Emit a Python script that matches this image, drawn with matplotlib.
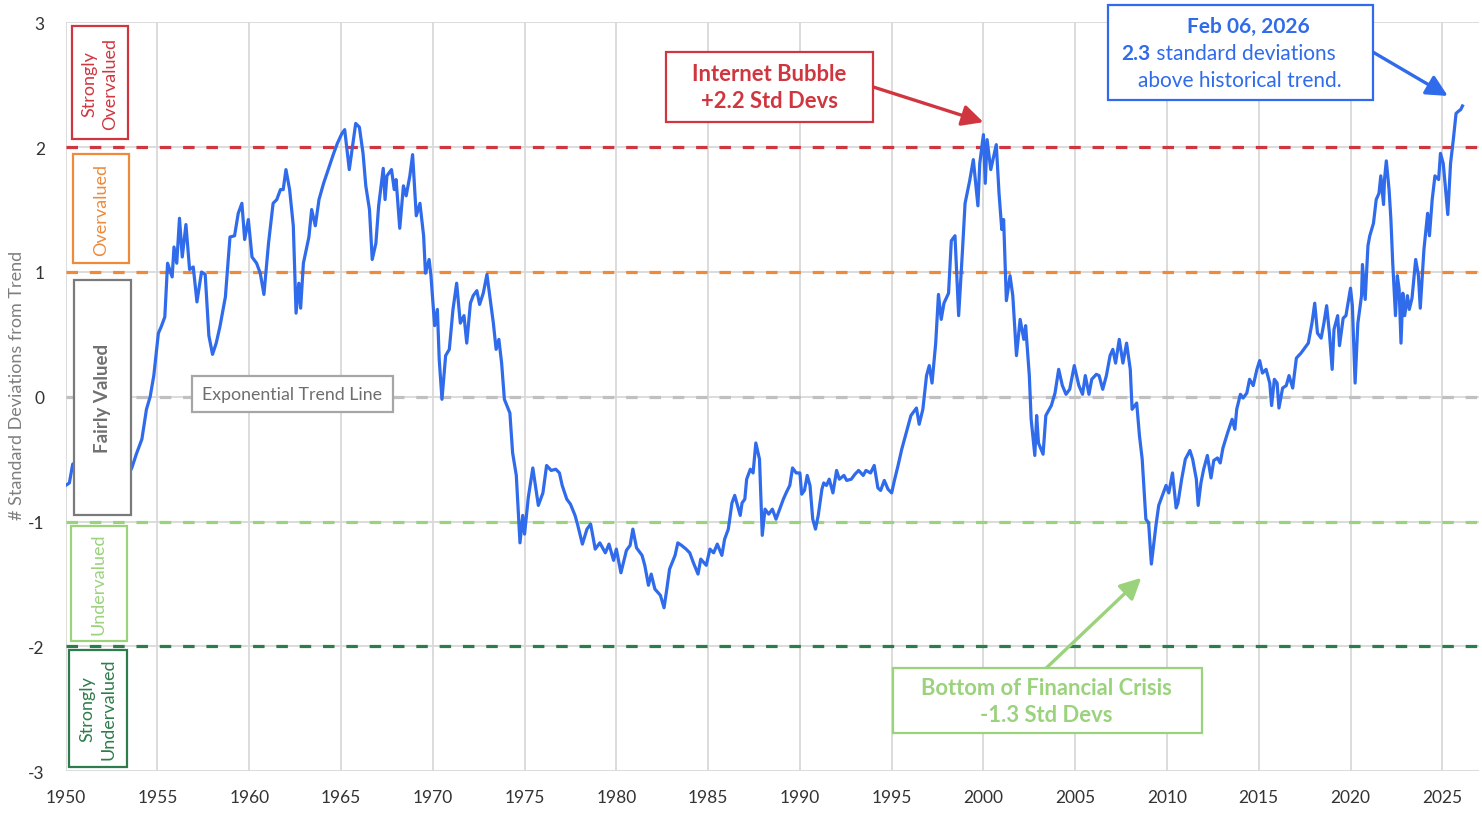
import matplotlib
matplotlib.use("Agg")
import matplotlib.pyplot as plt
from matplotlib.patches import Rectangle

# ---------------- data ----------------
years = [
    1950.0, 1950.2, 1950.38, 1950.8, 1951.5, 1952.3, 1953.0, 1953.5, 1953.6, 1953.87,
    1954.15, 1954.4, 1954.6, 1954.8, 1955.05, 1955.2, 1955.4, 1955.55, 1955.8, 1955.9,
    1956.05, 1956.2, 1956.35, 1956.55, 1956.75, 1956.95, 1957.15, 1957.4, 1957.6, 1957.8,
    1958.0, 1958.2, 1958.4, 1958.7, 1958.95, 1959.2, 1959.4, 1959.6, 1959.75, 1959.95,
    1960.15, 1960.4, 1960.6, 1960.8, 1961.05, 1961.3, 1961.5, 1961.7, 1961.85, 1962.0,
    1962.2, 1962.4, 1962.55, 1962.7, 1962.8, 1962.95, 1963.25, 1963.4, 1963.6, 1963.8,
    1964.05, 1964.3, 1964.6, 1964.8, 1965.05, 1965.2, 1965.45, 1965.8, 1966.0, 1966.2,
    1966.35, 1966.55, 1966.7, 1966.9, 1967.05, 1967.3, 1967.4, 1967.5, 1967.75, 1967.9,
    1968.0, 1968.2, 1968.4, 1968.55, 1968.75, 1968.9, 1969.1, 1969.3, 1969.5, 1969.6,
    1969.8, 1969.9, 1970.1, 1970.25, 1970.35, 1970.5, 1970.7, 1970.9, 1971.1, 1971.3,
    1971.5, 1971.7, 1971.85, 1972.05, 1972.2, 1972.4, 1972.55, 1972.75, 1972.95, 1973.1,
    1973.3, 1973.45, 1973.6, 1973.75, 1973.9, 1974.2, 1974.35, 1974.55, 1974.75, 1974.9,
    1975.0, 1975.2, 1975.45, 1975.75, 1976.0, 1976.2, 1976.45, 1976.7, 1976.9, 1977.05,
    1977.3, 1977.5, 1977.75, 1977.9, 1978.15, 1978.4, 1978.6, 1978.85, 1979.1, 1979.4,
    1979.6, 1979.85, 1980.0, 1980.25, 1980.55, 1980.75, 1980.9, 1981.1, 1981.4, 1981.55,
    1981.75, 1981.9, 1982.1, 1982.4, 1982.6, 1982.75, 1982.9, 1983.2, 1983.35, 1983.55,
    1983.8, 1984.0, 1984.2, 1984.45, 1984.6, 1984.9, 1985.1, 1985.3, 1985.5, 1985.75,
    1985.9, 1986.1, 1986.3, 1986.45, 1986.6, 1986.75, 1986.85, 1987.0, 1987.1, 1987.3,
    1987.45, 1987.6, 1987.8, 1987.95, 1988.1, 1988.3, 1988.5, 1988.7, 1988.9, 1989.1,
    1989.25, 1989.45, 1989.6, 1989.8, 1990.0, 1990.1, 1990.25, 1990.4, 1990.55, 1990.7,
    1990.85, 1991.0, 1991.2, 1991.3, 1991.45, 1991.6, 1991.8, 1992.0, 1992.15, 1992.4,
    1992.55, 1992.8, 1993.0, 1993.2, 1993.45, 1993.6, 1993.85, 1994.05, 1994.25, 1994.4,
    1994.6, 1994.8, 1995.0, 1995.15, 1995.35, 1995.55, 1995.7, 1995.9, 1996.05, 1996.35,
    1996.5, 1996.7, 1996.9, 1997.05, 1997.2, 1997.4, 1997.55, 1997.7, 1997.85, 1998.1,
    1998.25, 1998.45, 1998.65, 1998.85, 1999.0, 1999.25, 1999.45, 1999.7, 1999.8, 2000.0,
    2000.1, 2000.2, 2000.4, 2000.7, 2000.85, 2001.0, 2001.1, 2001.25, 2001.45, 2001.6,
    2001.8, 2002.0, 2002.2, 2002.3, 2002.5, 2002.6, 2002.8, 2002.9, 2003.0, 2003.25,
    2003.4, 2003.7, 2003.9, 2004.1, 2004.3, 2004.5, 2004.7, 2004.95, 2005.2, 2005.4,
    2005.55, 2005.75, 2005.9, 2006.15, 2006.3, 2006.5, 2006.7, 2006.9, 2007.05, 2007.2,
    2007.4, 2007.6, 2007.8, 2008.0, 2008.1, 2008.35, 2008.5, 2008.65, 2008.85, 2009.0,
    2009.15, 2009.4, 2009.55, 2009.75, 2009.95, 2010.1, 2010.3, 2010.5, 2010.6, 2010.8,
    2011.0, 2011.25, 2011.4, 2011.6, 2011.7, 2011.85, 2012.0, 2012.2, 2012.4, 2012.55,
    2012.75, 2012.9, 2013.05, 2013.3, 2013.55, 2013.7, 2013.8, 2014.0, 2014.15, 2014.35,
    2014.5, 2014.7, 2014.9, 2015.05, 2015.2, 2015.4, 2015.6, 2015.7, 2015.85, 2016.0,
    2016.1, 2016.3, 2016.5, 2016.65, 2016.85, 2017.05, 2017.3, 2017.5, 2017.7, 2017.9,
    2018.05, 2018.2, 2018.4, 2018.55, 2018.7, 2018.85, 2019.0, 2019.1, 2019.3, 2019.4,
    2019.6, 2019.75, 2020.0, 2020.1, 2020.25, 2020.4, 2020.6, 2020.65, 2020.8, 2020.95,
    2021.05, 2021.25, 2021.4, 2021.55, 2021.65, 2021.8, 2021.85, 2021.95, 2022.1, 2022.2,
    2022.3, 2022.45, 2022.55, 2022.65, 2022.75, 2022.85, 2022.95, 2023.1, 2023.2, 2023.35,
    2023.55, 2023.7, 2023.8, 2024.0, 2024.2, 2024.3, 2024.45, 2024.6, 2024.8, 2024.9,
    2025.05, 2025.15, 2025.3, 2025.45, 2025.6, 2025.75, 2025.9, 2026.0, 2026.1,
]
std_devs = [
    -0.71, -0.69, -0.54, -0.50, -0.45, -0.50, -0.45, -0.60, -0.57, -0.45,
    -0.34, -0.10, 0.00, 0.17, 0.51, 0.56, 0.64, 1.07, 0.96, 1.20,
    1.07, 1.43, 1.12, 1.38, 1.02, 1.04, 0.76, 1.00, 0.98, 0.49,
    0.34, 0.43, 0.56, 0.80, 1.28, 1.29, 1.47, 1.55, 1.26, 1.42,
    1.12, 1.07, 0.99, 0.82, 1.23, 1.55, 1.58, 1.66, 1.66, 1.82,
    1.66, 1.37, 0.67, 0.91, 0.71, 1.07, 1.28, 1.50, 1.37, 1.58,
    1.71, 1.82, 1.95, 2.03, 2.11, 2.14, 1.82, 2.19, 2.16, 1.95,
    1.69, 1.50, 1.10, 1.23, 1.53, 1.83, 1.58, 1.77, 1.82, 1.66,
    1.74, 1.35, 1.69, 1.61, 1.77, 1.94, 1.45, 1.55, 1.29, 0.99,
    1.10, 0.97, 0.57, 0.70, 0.30, -0.02, 0.33, 0.38, 0.70, 0.91,
    0.59, 0.65, 0.43, 0.75, 0.81, 0.85, 0.74, 0.83, 0.98, 0.81,
    0.59, 0.38, 0.46, 0.27, -0.02, -0.13, -0.45, -0.63, -1.17, -0.95,
    -1.10, -0.81, -0.57, -0.87, -0.77, -0.55, -0.59, -0.58, -0.61, -0.71,
    -0.82, -0.86, -0.95, -1.03, -1.18, -1.06, -1.02, -1.22, -1.17, -1.25,
    -1.18, -1.31, -1.22, -1.41, -1.23, -1.19, -1.06, -1.21, -1.27, -1.35,
    -1.51, -1.42, -1.54, -1.59, -1.69, -1.54, -1.38, -1.27, -1.17, -1.19,
    -1.22, -1.25, -1.33, -1.42, -1.30, -1.35, -1.22, -1.25, -1.18, -1.27,
    -1.14, -1.06, -0.85, -0.79, -0.87, -0.95, -0.85, -0.82, -0.66, -0.58,
    -0.61, -0.37, -0.50, -1.11, -0.90, -0.94, -0.90, -0.98, -0.90, -0.82,
    -0.77, -0.71, -0.57, -0.61, -0.61, -0.78, -0.75, -0.63, -0.71, -0.98,
    -1.06, -0.95, -0.74, -0.69, -0.71, -0.66, -0.77, -0.59, -0.66, -0.63,
    -0.67, -0.66, -0.62, -0.59, -0.63, -0.59, -0.61, -0.55, -0.73, -0.75,
    -0.67, -0.74, -0.77, -0.67, -0.55, -0.42, -0.34, -0.23, -0.15, -0.09,
    -0.22, -0.10, 0.17, 0.25, 0.11, 0.43, 0.82, 0.62, 0.75, 0.83,
    1.25, 1.29, 0.65, 1.15, 1.55, 1.73, 1.90, 1.53, 1.87, 2.10,
    1.71, 2.06, 1.82, 2.02, 1.63, 1.34, 1.42, 0.77, 0.97, 0.81,
    0.33, 0.62, 0.46, 0.57, 0.17, -0.18, -0.47, -0.15, -0.37, -0.46,
    -0.15, -0.07, 0.03, 0.22, 0.09, 0.02, 0.06, 0.25, 0.09, 0.02,
    0.17, 0.02, 0.14, 0.18, 0.17, 0.06, 0.17, 0.33, 0.38, 0.27,
    0.46, 0.27, 0.43, 0.22, -0.10, -0.05, -0.31, -0.50, -0.98, -1.01,
    -1.34, -1.03, -0.87, -0.79, -0.71, -0.77, -0.61, -0.89, -0.85, -0.66,
    -0.50, -0.43, -0.50, -0.66, -0.87, -0.69, -0.58, -0.47, -0.65, -0.51,
    -0.49, -0.53, -0.41, -0.29, -0.18, -0.26, -0.10, 0.02, -0.01, 0.03,
    0.14, 0.09, 0.22, 0.29, 0.19, 0.22, 0.11, -0.07, 0.14, 0.11,
    -0.09, 0.07, 0.09, 0.17, 0.07, 0.31, 0.35, 0.39, 0.43, 0.59,
    0.75, 0.51, 0.47, 0.59, 0.73, 0.51, 0.22, 0.54, 0.65, 0.41,
    0.63, 0.65, 0.87, 0.73, 0.11, 0.59, 0.81, 1.06, 0.78, 1.21,
    1.29, 1.39, 1.58, 1.63, 1.77, 1.54, 1.74, 1.89, 1.66, 1.42,
    1.07, 0.65, 0.97, 0.86, 0.43, 0.83, 0.65, 0.81, 0.70, 0.79,
    1.10, 0.97, 0.71, 1.18, 1.47, 1.29, 1.58, 1.77, 1.74, 1.95,
    1.87, 1.71, 1.46, 1.87, 2.06, 2.27, 2.29, 2.30, 2.33,
]

x_ticks = list(range(1950, 2030, 5))
y_ticks = [-3, -2, -1, 0, 1, 2, 3]

levels = [2, 1, 0, -1, -2]
level_colors = ["#D0363F", "#EE8A3A", "#C0C0C0", "#9BD27C", "#2E7C4B"]

zone_labels = ["Strongly\nOvervalued", "Overvalued", "Fairly Valued",
               "Undervalued", "Strongly\nUndervalued"]
zone_text_colors = ["#D0363F", "#EE8A3A", "#707070", "#9BD27C", "#2E7C4B"]
zone_edge_colors = ["#D0363F", "#EE8A3A", "#7A7A7A", "#9BD27C", "#2E7C4B"]
zone_weights = ["normal", "normal", "bold", "normal", "normal"]

trend_label = "Exponential Trend Line"
bubble_label = "Internet Bubble\n+2.2 Std Devs"
bubble_point = (2000.0, 2.2)
crisis_label = "Bottom of Financial Crisis\n-1.3 Std Devs"
crisis_point = (2008.6, -1.45)
latest_date = "Feb 06, 2026"
latest_value = "2.3"
latest_rest = " standard deviations"
latest_line3 = "above historical trend."
latest_point = (2025.3, 2.41)

y_label = "# Standard Deviations from Trend"

# ---------------- styling ----------------
FONT = "Lato"
plt.rcParams["font.family"] = [FONT, "DejaVu Sans"]
plt.rcParams["axes.unicode_minus"] = False

W, H = 1482, 820
fig = plt.figure(figsize=(W / 100, H / 100), dpi=100)
fig.patch.set_facecolor("white")


def fx(px):
    return px / W


def fy(py):
    return 1 - py / H


ax_left, ax_right, ax_top, ax_bottom = 65.7, 1479, 23.3, 772.3
ax = fig.add_axes([fx(ax_left), fy(ax_bottom), fx(ax_right - ax_left),
                   (ax_bottom - ax_top) / H])
ax.set_xlim(1950, 2027)
ax.set_ylim(-3, 3)
ax.set_xticks(x_ticks)
ax.set_yticks(y_ticks)
ax.grid(True, color="#D9D9D9", lw=1.3, zorder=0)
ax.set_axisbelow(True)
for s in ax.spines.values():
    s.set_visible(False)
ax.tick_params(length=0, labelsize=12.5, labelcolor="#333333")
ax.tick_params(axis="x", pad=13)
ax.tick_params(axis="y", pad=15)

for lv, col in zip(levels, level_colors):
    ax.axhline(lv, color=col, lw=2.3, linestyle=(0, (3.6, 3.7)), zorder=2)

ax.plot(years, std_devs, color="#2F6BEB", lw=2.3, zorder=4,
        solid_joinstyle="round")

fig.text(fx(17), fy(385), y_label, rotation=90, ha="center", va="center",
         fontsize=13, color="#7F7F7F")


def box(x0, y0, x1, y1, edge, lw=1.6):
    r = Rectangle((fx(x0), fy(y1)), fx(x1 - x0), (y1 - y0) / H,
                  transform=fig.transFigure, facecolor="white",
                  edgecolor=edge, lw=lw, zorder=5)
    fig.add_artist(r)


# zone boxes on the left
zone_boxes = [(72.3, 27.3, 127.7, 140), (73, 155, 129, 264),
              (74, 281, 130.7, 516), (71, 527, 126.7, 642),
              (69.3, 651, 127, 768)]
zone_sizes = [13, 13, 13.5, 13, 13]
for (x0, y0, x1, y1), lab, tc, ec, wt, fs in zip(zone_boxes, zone_labels,
                                                 zone_text_colors,
                                                 zone_edge_colors,
                                                 zone_weights, zone_sizes):
    box(x0, y0, x1, y1, ec)
    fig.text(fx((x0 + x1) / 2), fy((y0 + y1) / 2), lab, rotation=90,
             ha="center", va="center", fontsize=fs, color=tc,
             fontweight=wt, linespacing=1.4, zorder=6)

# trend line label
box(191.7, 377.3, 393.3, 413.3, "#A6A6A6")
fig.text(fx(292.5), fy(395.3), trend_label, ha="center", va="center",
         fontsize=12.8, color="#6E6E6E", zorder=6)

# Internet bubble
RED = "#D0363F"
box(665.7, 53.3, 873.3, 122.7, RED)
fig.text(fx(769.5), fy(88), bubble_label, ha="center", va="center",
         fontsize=15.8, color=RED, fontweight="bold", linespacing=1.38,
         zorder=6)
ax.annotate("", xy=bubble_point, xycoords="data",
            xytext=(873.3, H - 88), textcoords="figure pixels",
            arrowprops=dict(arrowstyle="-|>", color=RED, lw=2.4,
                            mutation_scale=32, shrinkA=0, shrinkB=0),
            annotation_clip=False, zorder=6)

# Latest value box
BLUE = "#2F6BEB"
box(1107.7, 5.7, 1373.3, 100.7, BLUE)
fig.text(fx(1248.7), fy(27), latest_date, ha="center", va="center",
         fontsize=15, color=BLUE, fontweight="bold", zorder=6)
fig.text(fx(1151), fy(53.5), latest_value, ha="right", va="center",
         fontsize=15, color=BLUE, fontweight="bold", zorder=6)
fig.text(fx(1151), fy(53.5), latest_rest, ha="left", va="center",
         fontsize=15, color=BLUE, zorder=6)
fig.text(fx(1239.7), fy(81), latest_line3, ha="center", va="center",
         fontsize=15, color=BLUE, zorder=6)
ax.annotate("", xy=latest_point, xycoords="data",
            xytext=(1373.3, H - 53.3), textcoords="figure pixels",
            arrowprops=dict(arrowstyle="-|>", color=BLUE, lw=2.4,
                            mutation_scale=32, shrinkA=0, shrinkB=0),
            annotation_clip=False, zorder=6)

# Financial crisis
GREEN = "#9BD27C"
box(892.7, 669.3, 1201.7, 734.3, GREEN)
fig.text(fx(1046), fy(702), crisis_label, ha="center", va="center",
         fontsize=15.8, color=GREEN, fontweight="bold", linespacing=1.38,
         zorder=6)
ax.annotate("", xy=crisis_point, xycoords="data",
            xytext=(1046, H - 669.3), textcoords="figure pixels",
            arrowprops=dict(arrowstyle="-|>", color=GREEN, lw=2.4,
                            mutation_scale=32, shrinkA=0, shrinkB=0),
            annotation_clip=False, zorder=6)

fig.savefig("out.png", dpi=100)
